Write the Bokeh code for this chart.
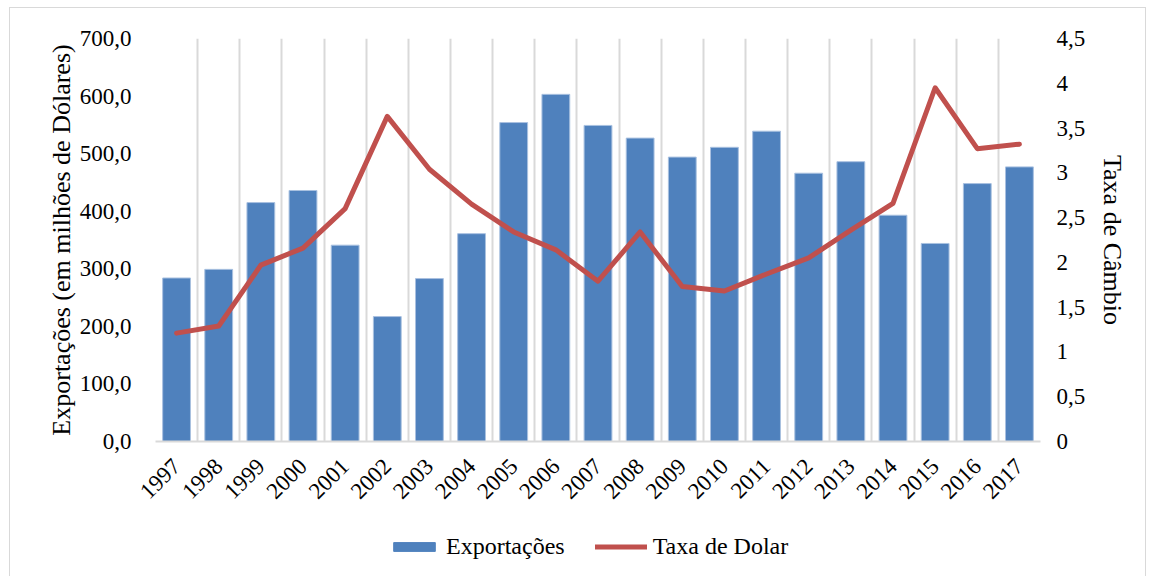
import math
from bokeh.plotting import figure
from bokeh.layouts import column
from bokeh.models import (Range1d, LinearAxis, FixedTicker, Legend, LegendItem,
                          ColumnDataSource)
from bokeh.embed import file_html
from bokeh.resources import INLINE

years = ["1997", "1998", "1999", "2000", "2001", "2002", "2003", "2004", "2005",
         "2006", "2007", "2008", "2009", "2010", "2011", "2012", "2013", "2014",
         "2015", "2016", "2017"]
exportacoes = [284, 299, 415, 436, 341, 217, 283, 361, 554, 603, 549, 527, 494,
               511, 539, 466, 486, 393, 344, 448, 477]
taxa_dolar = [1.21, 1.29, 1.97, 2.16, 2.60, 3.63, 3.04, 2.65, 2.34, 2.14, 1.79,
              2.34, 1.73, 1.68, 1.87, 2.05, 2.36, 2.66, 3.95, 3.27, 3.32]
left_ticks = [0, 100, 200, 300, 400, 500, 600, 700]
left_labels = ["0,0", "100,0", "200,0", "300,0", "400,0", "500,0", "600,0", "700,0"]
right_ticks = [0, 0.5, 1, 1.5, 2, 2.5, 3, 3.5, 4, 4.5]
right_labels = ["0", "0,5", "1", "1,5", "2", "2,5", "3", "3,5", "4", "4,5"]
series_names = ["Exportações", "Taxa de Dolar"]

FONT = "Liberation Serif"
BAR_COLOR = "#4f81bd"
LINE_COLOR = "#c0504d"
n = len(years)
xc = [i + 0.5 for i in range(n)]
src = ColumnDataSource(dict(x=xc, exp=exportacoes, taxa=taxa_dolar, year=years))

p = figure(width=1135, height=510, output_backend="svg", toolbar_location=None,
           x_range=Range1d(0, n), y_range=Range1d(0, 700),
           min_border_left=145, min_border_right=105, min_border_top=30,
           min_border_bottom=77)
p.outline_line_color = None
p.extra_y_ranges = {"taxa": Range1d(0, 4.5)}

p.vbar(x="x", top="exp", width=0.66, bottom=0, source=src,
       fill_color=BAR_COLOR, line_color="#a9c1e0", line_width=1)
p.line(x="x", y="taxa", source=src, y_range_name="taxa",
       line_color=LINE_COLOR, line_width=5, line_join="round", line_cap="round")

# x axis
xa = p.xaxis[0]
xa.ticker = FixedTicker(ticks=xc)
xa.major_label_overrides = {x: y for x, y in zip(xc, years)}
xa.major_label_orientation = math.pi / 4
xa.major_label_text_font = FONT
xa.major_label_text_font_size = "23px"
xa.major_label_text_color = "#000000"
xa.major_tick_line_color = None
xa.minor_tick_line_color = None
xa.axis_line_color = "#d9d9d9"
xa.axis_line_width = 2
xa.major_label_standoff = 15

# left y axis
ya = p.yaxis[0]
ya.ticker = FixedTicker(ticks=left_ticks)
ya.major_label_overrides = {t: l for t, l in zip(left_ticks, left_labels)}
ya.axis_label = "Exportações (em milhões de Dólares)"
ya.axis_label_text_font = FONT
ya.axis_label_text_font_style = "normal"
ya.axis_label_text_font_size = "26px"
ya.axis_label_text_color = "#000000"
ya.major_label_text_font = FONT
ya.major_label_text_font_size = "23px"
ya.major_label_text_color = "#000000"
ya.major_tick_line_color = None
ya.minor_tick_line_color = None
ya.axis_line_color = None
ya.major_label_standoff = 18
ya.axis_label_standoff = 1

# right y axis
ra = LinearAxis(y_range_name="taxa", ticker=FixedTicker(ticks=right_ticks))
ra.major_label_overrides = {t: l for t, l in zip(right_ticks, right_labels)}
ra.axis_label = "Taxa de Câmbio"
ra.axis_label_text_font = FONT
ra.axis_label_text_font_style = "normal"
ra.axis_label_text_font_size = "26px"
ra.axis_label_text_color = "#000000"
ra.major_label_text_font = FONT
ra.major_label_text_font_size = "23px"
ra.major_label_text_color = "#000000"
ra.major_tick_line_color = None
ra.minor_tick_line_color = None
ra.axis_line_color = None
ra.major_label_standoff = 10
ra.axis_label_standoff = 10
p.add_layout(ra, "right")

# grids
p.ygrid.visible = False
p.xgrid.ticker = FixedTicker(ticks=list(range(n + 1)))
p.xgrid.grid_line_color = "#d9d9d9"
p.xgrid.grid_line_width = 2

# legend strip (separate figure below the chart; its renderers are hidden,
# only their legend entries are shown)
lf = figure(width=1135, height=58, output_backend="svg", toolbar_location=None,
            x_range=Range1d(0, n), y_range=Range1d(0, 700), min_border=0)
lf.outline_line_color = None
lf.axis.visible = False
lf.grid.visible = False
r_bar = lf.vbar(x="x", top="exp", width=0.66, source=src,
                fill_color=BAR_COLOR, line_color=BAR_COLOR, visible=False)
r_line = lf.line(x="x", y="taxa", source=src, line_color=LINE_COLOR, line_width=5,
                 line_cap="round", visible=False)
legend = Legend(items=[LegendItem(label=series_names[0], renderers=[r_bar]),
                       LegendItem(label=series_names[1], renderers=[r_line])],
                orientation="horizontal", location=(233, 16),
                border_line_color=None, background_fill_alpha=0,
                inactive_fill_alpha=0,
                label_text_font=FONT, label_text_font_size="24px",
                label_text_color="#000000", glyph_width=52, glyph_height=11,
                spacing=30, label_standoff=6, padding=0, margin=0)
lf.add_layout(legend, "center")

layout = column(p, lf, spacing=0)
layout.margin = (7, 0, 0, 9)
layout.styles = {"border": "1px solid #d9d9d9", "border-bottom": "none"}

open("out.html", "w").write(file_html(layout, INLINE))
